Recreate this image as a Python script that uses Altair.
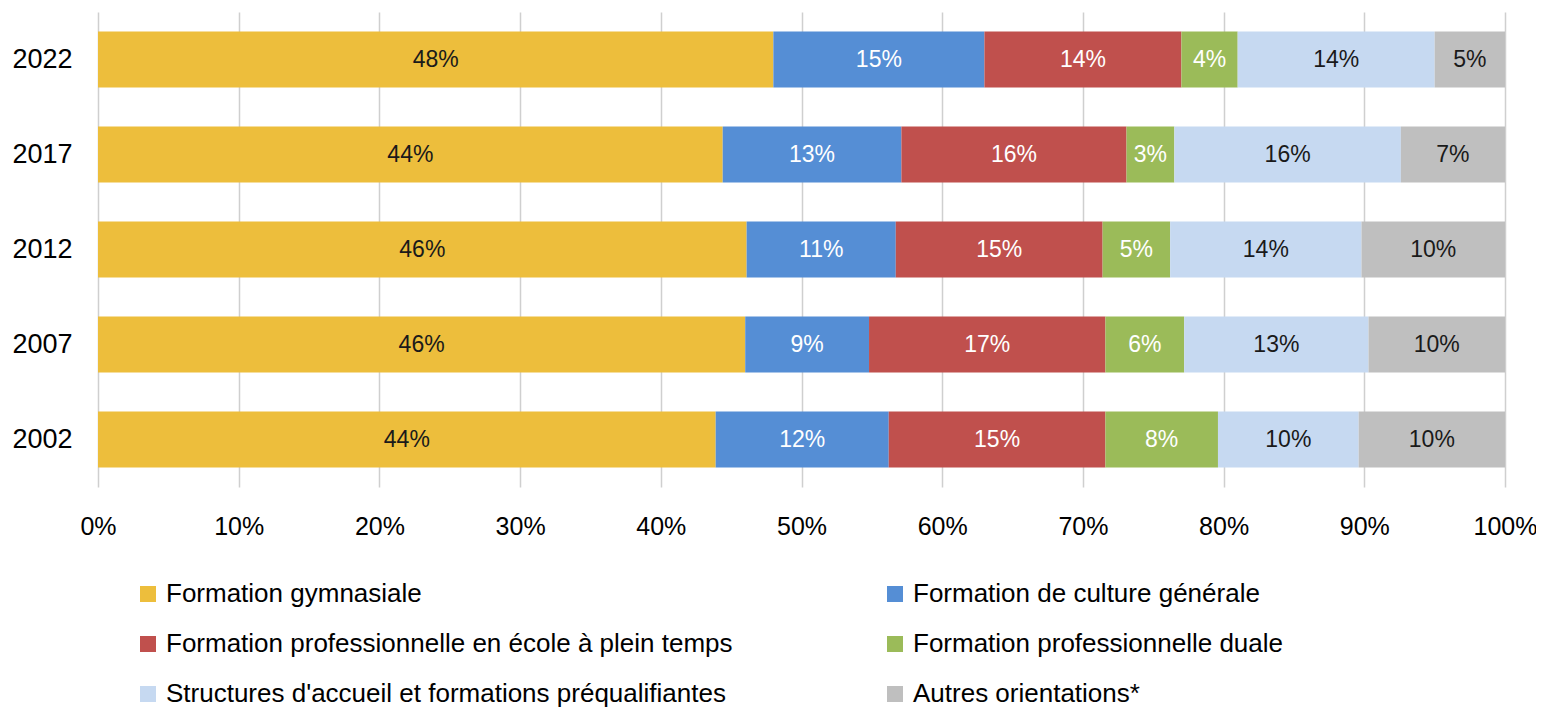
import altair as alt
import pandas as pd

years = ["2022", "2017", "2012", "2007", "2002"]
categories = [
    "Formation gymnasiale",
    "Formation de culture générale",
    "Formation professionnelle en école à plein temps",
    "Formation professionnelle duale",
    "Structures d'accueil et formations préqualifiantes",
    "Autres orientations*",
]
colors = ["#EDBE3C", "#558ED5", "#C0504D", "#9BBB59", "#C6D9F1", "#BFBFBF"]
label_colors = ["#1a1a1a", "#ffffff", "#ffffff", "#ffffff", "#1a1a1a", "#1a1a1a"]
# legend fills column by column: left column first, then right column
legend_order = [0, 2, 4, 1, 3, 5]

# share (%) per category, one list per category, in the order of `years`
gymnasiale = [48.0, 44.4, 46.1, 46.0, 43.9]
culture_generale = [15.0, 12.7, 10.6, 8.8, 12.3]
pro_ecole = [14.0, 16.0, 14.7, 16.8, 15.4]
pro_duale = [4.0, 3.4, 4.8, 5.6, 8.0]
accueil = [14.0, 16.1, 13.6, 13.1, 10.0]
autres = [5.0, 7.4, 10.2, 9.7, 10.4]

series = [gymnasiale, culture_generale, pro_ecole, pro_duale, accueil, autres]
rows = []
for ci, (cat, vals) in enumerate(zip(categories, series)):
    for y, v in zip(years, vals):
        rows.append({"year": y, "cat": cat, "order": ci, "value": v,
                     "lc": label_colors[ci]})
df = pd.DataFrame(rows)

FONT = "Liberation Sans"

base = alt.Chart(df).transform_stack(
    stack="value", groupby=["year"], sort=[alt.SortField("order", "ascending")],
    as_=["x0", "x1"]
).transform_calculate(
    xm="(datum.x0 + datum.x1) / 2",
    lab="format(round(datum.value), 'd') + '%'",
)

y_enc = alt.Y("year:N", sort=years, title=None,
              scale=alt.Scale(paddingInner=0.41, paddingOuter=0.205),
              axis=alt.Axis(domain=False, ticks=False, labelPadding=26,
                            labelFontSize=27, labelColor="#000000", labelFont=FONT))

bars = base.mark_bar().encode(
    x=alt.X("x0:Q", scale=alt.Scale(domain=[0, 100]), title=None,
            axis=alt.Axis(values=list(range(0, 101, 10)), labelExpr="datum.value + '%'",
                          domain=False, ticks=False, labelPadding=27,
                          labelFontSize=25, labelColor="#000000", labelFont=FONT,
                          labelFlush=False, labelOverlap=False,
                          grid=True, gridColor="#cfcfcf", gridWidth=1.5)),
    x2="x1:Q",
    y=y_enc,
    color=alt.Color("cat:N",
                    scale=alt.Scale(domain=[categories[i] for i in legend_order],
                                    range=[colors[i] for i in legend_order]),
                    legend=alt.Legend(title=None, orient="none", legendX=37, legendY=569,
                                      columns=2, columnPadding=149, rowPadding=24,
                                      symbolType="square", symbolSize=256,
                                      symbolStrokeWidth=0, labelOffset=5,
                                      labelFontSize=26, labelFont=FONT,
                                      labelColor="#000000", labelLimit=800,
                                      gridAlign="each")),
)

labels = base.mark_text(fontSize=23, font=FONT).encode(
    x=alt.X("xm:Q"),
    y=alt.Y("year:N", sort=years),
    text="lab:N",
    color=alt.Color("lc:N", scale=None),
)

chart = alt.layer(bars, labels).properties(
    width=1407, height=475,
    padding={"left": 90, "top": 4, "right": 31, "bottom": 221},
    autosize=alt.AutoSizeParams(type="none"),
).configure_view(stroke=None)

chart.save("out.html", embed_options={"renderer": "svg", "actions": False})
